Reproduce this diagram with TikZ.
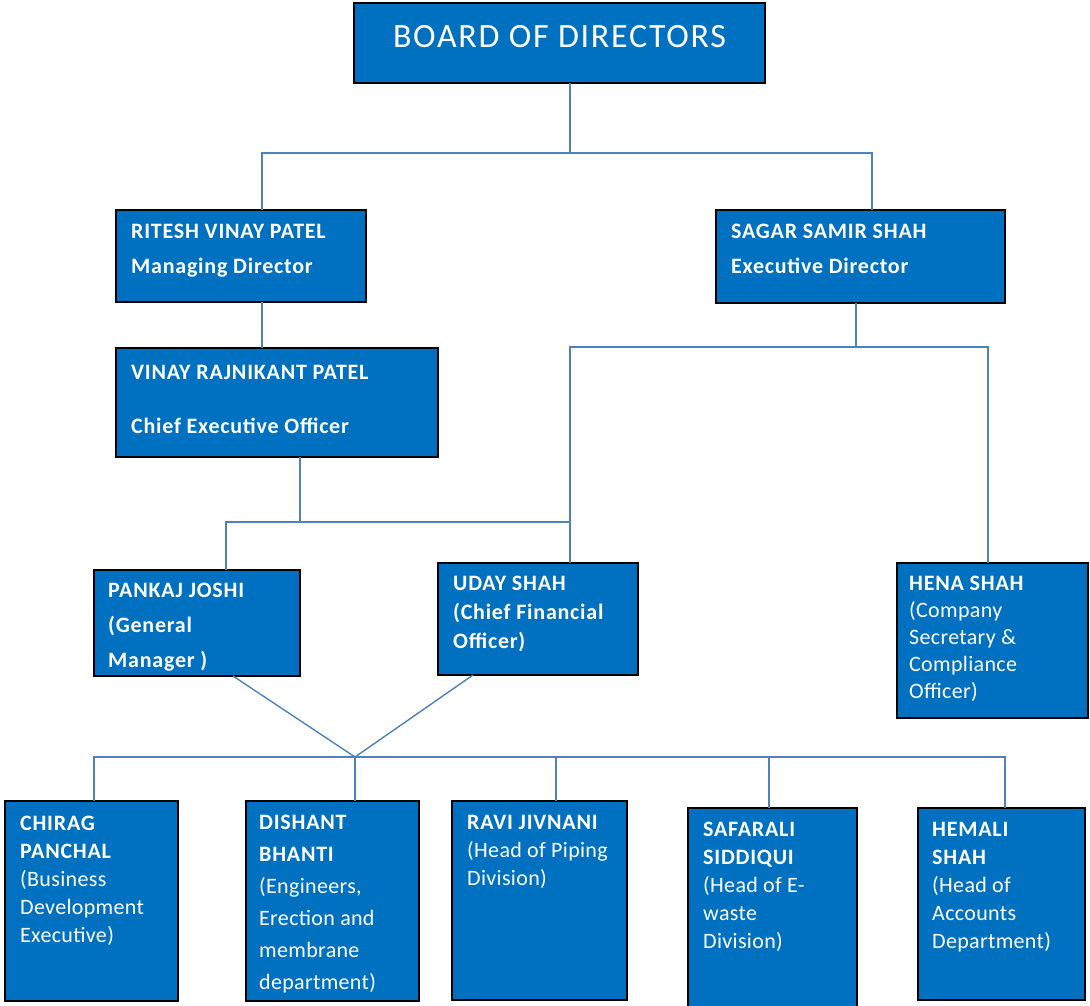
\documentclass[tikz,border=0pt]{standalone}
\usepackage{fontspec}
\setmainfont{Carlito}[LetterSpace=1.5,BoldFeatures={LetterSpace=3.5}]
\newfontfamily\boardfont{Carlito}[LetterSpace=5]
\definecolor{boxblue}{HTML}{0070C0}
\definecolor{linkblue}{HTML}{4F81BD}
\begin{document}
\begin{tikzpicture}[x=1pt,y=-1pt,
 box/.style={draw=black,line width=1.5pt,fill=boxblue,rectangle,inner sep=0pt,outer sep=0pt,anchor=north west},
 conn/.style={draw=linkblue,line width=1.4pt},
 lbl/.style={text=white,anchor=north west,inner sep=0pt,align=left},
 sp35/.style={font=\fontsize{22}{35}\selectfont},
 sp29/.style={font=\fontsize{22}{29}\selectfont},
 sp27/.style={font=\fontsize{22}{27}\selectfont},
 sp28/.style={font=\fontsize{22}{28}\selectfont},
 sp32/.style={font=\fontsize{22}{32}\selectfont},
]
\useasboundingbox[fill=white] (0,0) rectangle (1090,1006);

% boxes
\node[box,minimum width=411pt,minimum height=80pt] (board) at (354,3) {};
\node[box,minimum width=250pt,minimum height=92pt] (ritesh) at (116,210) {};
\node[box,minimum width=289pt,minimum height=93pt] (sagar) at (716,210) {};
\node[box,minimum width=322pt,minimum height=109pt] (vinay) at (116,348) {};
\node[box,minimum width=206pt,minimum height=106pt] (pankaj) at (94,570) {};
\node[box,minimum width=200pt,minimum height=112pt] (uday) at (438,563) {};
\node[box,minimum width=191pt,minimum height=155pt] (hena) at (897,563) {};
\node[box,minimum width=173pt,minimum height=200pt] (chirag) at (5,801) {};
\node[box,minimum width=173pt,minimum height=200pt] (dishant) at (246,801) {};
\node[box,minimum width=175pt,minimum height=199pt] (ravi) at (452,801) {};
\node[box,minimum width=169pt,minimum height=202pt] (safarali) at (688,808) {};
\node[box,minimum width=167pt,minimum height=192pt] (hemali) at (918,808) {};

% texts
\node[text=white,inner sep=0pt,font=\boardfont\fontsize{34}{40}\selectfont] (boardt) at (559.5,37) {BOARD OF DIRECTORS};
\node[lbl,sp35] (ritesht) at (131,224) {\textbf{RITESH VINAY PATEL}\\\textbf{Managing Director}};
\node[lbl,sp35] (sagart) at (731,224) {\textbf{SAGAR SAMIR SHAH}\\\textbf{Executive Director}};
\node[lbl,sp35] (vinayt) at (131,365) {\textbf{VINAY RAJNIKANT PATEL}\\[19pt]\textbf{Chief Executive Officer}};
\node[lbl,sp35] (pankajt) at (108,583) {\textbf{PANKAJ JOSHI}\\\textbf{(General}\\\textbf{Manager )}};
\node[lbl,sp29] (udayt) at (453,576) {\textbf{UDAY SHAH}\\\textbf{(Chief Financial}\\\textbf{Officer)}};
\node[lbl,sp27] (henat) at (909,576) {\textbf{HENA SHAH}\\(Company\\Secretary \&\\Compliance\\Officer)};
\node[lbl,sp28] (chiragt) at (20,816) {\textbf{CHIRAG}\\\textbf{PANCHAL}\\(Business\\Development\\Executive)};
\node[lbl,sp32] (dishantt) at (259,815) {\textbf{DISHANT}\\\textbf{BHANTI}\\(Engineers,\\Erection and\\membrane\\department)};
\node[lbl,sp28] (ravit) at (467,815) {\textbf{RAVI JIVNANI}\\(Head of Piping\\Division)};
\node[lbl,sp28] (safaralit) at (703,822) {\textbf{SAFARALI}\\\textbf{SIDDIQUI}\\(Head of E-\\waste\\Division)};
\node[lbl,sp28] (hemalit) at (932,822) {\textbf{HEMALI}\\\textbf{SHAH}\\(Head of\\Accounts\\Department)};

% junctions
\coordinate (j1) at (570,153);
\coordinate (rA) at (262,153);
\coordinate (sA) at (872,153);
\coordinate (v1) at (300,522);
\coordinate (pA) at (226,522);
\coordinate (uA) at (570,522);
\coordinate (s1) at (856,347);
\coordinate (u2) at (570,347);
\coordinate (h2) at (988,347);
\coordinate (pd) at (233,676);
\coordinate (ud) at (473,675);
\coordinate (vv) at (355,757);
\coordinate (b1) at (94,757);
\coordinate (b2) at (355,757);
\coordinate (b3) at (556,757);
\coordinate (b4) at (769,757);
\coordinate (b5) at (1005,757);

% connectors
\draw[conn] (board.south -| j1) -- (j1);
\draw[conn] (ritesh.north -| rA) -- (rA) -- (sA) -- (sagar.north -| sA);
\draw[conn] (ritesh.south -| rA) -- (vinay.north -| rA);
\draw[conn] (vinay.south -| v1) -- (v1);
\draw[conn] (pankaj.north -| pA) -- (pA) -- (uA);
\draw[conn] (sagar.south -| s1) -- (s1);
\draw[conn] (uday.north -| u2) -- (u2) -- (h2) -- (hena.north -| h2);
\draw[conn] (pankaj.south -| pd) -- (vv);
\draw[conn] (uday.south -| ud) -- (vv);
\draw[conn] (chirag.north -| b1) -- (b1) -- (b5) -- (hemali.north -| b5);
\draw[conn] (vv) -- (dishant.north -| b2);
\draw[conn] (b3) -- (ravi.north -| b3);
\draw[conn] (b4) -- (safarali.north -| b4);
\end{tikzpicture}
\end{document}
